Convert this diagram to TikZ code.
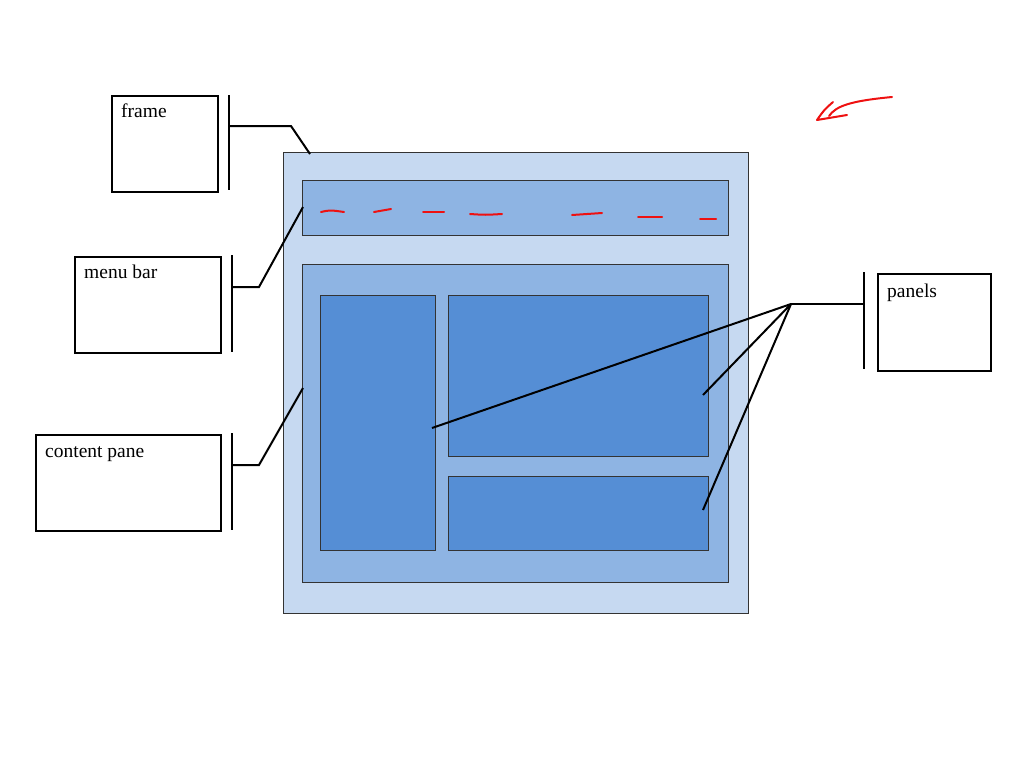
\documentclass[tikz,border=0pt]{standalone}
\usepackage{fontspec}
\setmainfont{Liberation Serif}
\definecolor{winouter}{HTML}{C6D9F1}
\definecolor{winmid}{HTML}{8EB4E3}
\definecolor{winpanel}{HTML}{558ED5}
\definecolor{inkred}{HTML}{EE1111}
\begin{document}
\begin{tikzpicture}[x=1pt,y=-1pt,
  labelbox/.style={draw=black,line width=2pt,fill=white,inner sep=0pt,anchor=north west},
  labeltext/.style={anchor=base west,inner sep=0pt,font=\fontsize{19.5}{22}\selectfont},
  bar/.style={draw=black,line width=2pt},
  conn/.style={draw=black,line width=2pt},
  winrect/.style={draw=black!80,line width=0.8pt,inner sep=0pt,anchor=north west},
  redink/.style={draw=inkred,line width=2pt,line cap=round,line join=round}]
\useasboundingbox (0,0) rectangle (1024,768);
% window
\node[winrect,fill=winouter,minimum width=465pt,minimum height=461pt] (win) at (283,152) {};
\node[winrect,fill=winmid,minimum width=426pt,minimum height=55pt] (menu) at (302,180) {};
\node[winrect,fill=winmid,minimum width=426pt,minimum height=318pt] (content) at (302,264) {};
\node[winrect,fill=winpanel,minimum width=115pt,minimum height=255pt] (pleft) at (320,295) {};
\node[winrect,fill=winpanel,minimum width=260pt,minimum height=161pt] (ptop) at (448,295) {};
\node[winrect,fill=winpanel,minimum width=260pt,minimum height=74pt] (pbot) at (448,476) {};
% label boxes
\node[labelbox,minimum width=106pt,minimum height=96pt] (frameB) at (110.5,94.5) {};
\node[labeltext] (frameT) at (121,117) {frame};
\node[labelbox,minimum width=146pt,minimum height=96pt] (menuB) at (73.5,255.5) {};
\node[labeltext] (menuT) at (84,278) {menu bar};
\node[labelbox,minimum width=185pt,minimum height=96pt] (contB) at (34.5,433.5) {};
\node[labeltext] (contT) at (45,457) {content pane};
\node[labelbox,minimum width=113pt,minimum height=97pt] (panB) at (876.5,272.5) {};
\node[labeltext] (panT) at (887,297) {panels};
% bars
\coordinate (fb1) at (229,95); \coordinate (fb2) at (229,190);
\coordinate (mb1) at (232,255); \coordinate (mb2) at (232,352);
\coordinate (cb1) at (232,433); \coordinate (cb2) at (232,530);
\coordinate (pb1) at (864,272); \coordinate (pb2) at (864,369);
\draw[bar] (fb1) -- (fb2);
\draw[bar] (mb1) -- (mb2);
\draw[bar] (cb1) -- (cb2);
\draw[bar] (pb1) -- (pb2);
% connectors
\coordinate (fc) at (229,126); \coordinate (fe) at (310,154);
\draw[conn] (fc) -- (291,126) -- (fe);
\coordinate (mc) at (232,287); \coordinate (me) at (303,207);
\draw[conn] (mc) -- (259,287) -- (me);
\coordinate (cc) at (232,465); \coordinate (ce) at (303,388);
\draw[conn] (cc) -- (259,465) -- (ce);
\coordinate (pc) at (864,304); \coordinate (hub) at (791,304);
\coordinate (e1) at (432,428); \coordinate (e2) at (703,395); \coordinate (e3) at (703,510);
\draw[conn] (pc) -- (hub);
\draw[conn] (hub) -- (e1);
\draw[conn] (hub) -- (e2);
\draw[conn] (hub) -- (e3);
% red dashes
\draw[redink] (321,212) .. controls (330,210) .. (344,212);
\draw[redink] (374,212) -- (391,209);
\draw[redink] (423,212) -- (444,212);
\draw[redink] (470,214) .. controls (485,215) .. (502,214);
\draw[redink] (572,215) -- (602,213);
\draw[redink] (638,217) -- (662,217);
\draw[redink] (700,219) -- (716,219);
% red arrow
\draw[redink] (892,97) .. controls (850,101) and (836,106) .. (829,116);
\draw[redink] (833,102) .. controls (824,110) .. (817,120) -- (847,115);
\end{tikzpicture}
\end{document}
